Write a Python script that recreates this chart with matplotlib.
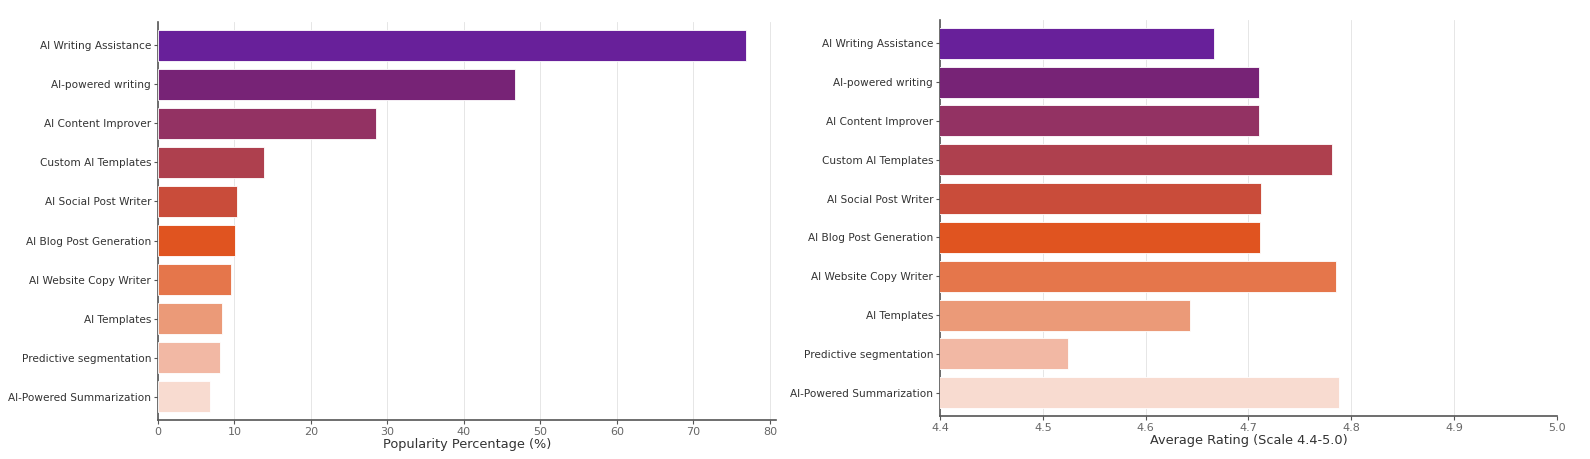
import matplotlib.pyplot as plt
import numpy as np

# categories, top to bottom
features = ['AI Writing Assistance', 'AI-powered writing', 'AI Content Improver',
            'Custom AI Templates', 'AI Social Post Writer', 'AI Blog Post Generation',
            'AI Website Copy Writer', 'AI Templates', 'Predictive segmentation',
            'AI-Powered Summarization']
popularity = [76.9, 46.7, 28.5, 13.9, 10.3, 10.1, 9.5, 8.4, 8.1, 6.8]
ratings = [4.666, 4.710, 4.710, 4.781, 4.712, 4.711, 4.785, 4.643, 4.524, 4.788]

bar_colors = ['#68209A', '#772376', '#933263', '#AE404E', '#C94C3A', '#E05420',
              '#E5764B', '#EB9A78', '#F2B8A4', '#F8DBD0']

ftsz = 7.6
txt_col = '#333333'

fig = plt.figure(figsize=(15.9, 4.59), dpi=100)
ax1 = fig.add_axes([158 / 1590, 1 - 420 / 459, 618 / 1590, 398 / 459])
ax2 = fig.add_axes([940 / 1590, 1 - 416 / 459, 617 / 1590, 396 / 459])

ypos = np.arange(len(features))

ax1.barh(ypos, popularity, color=bar_colors, height=0.8, edgecolor='white', linewidth=0.6, zorder=3)
ax1.set_xlim(0, 80.8)
ax1.set_xticks(np.arange(0, 81, 10))
ax1.set_xlabel('Popularity Percentage (%)', fontsize=9.3, color=txt_col, labelpad=1)

ax2.barh(ypos, ratings, left=0, color=bar_colors, height=0.8, edgecolor='white', linewidth=0.6, zorder=3)
ax2.set_xlim(4.4, 5.0)
ax2.set_xticks(np.arange(4.4, 5.01, 0.1))
ax2.set_xticklabels(['4.4', '4.5', '4.6', '4.7', '4.8', '4.9', '5.0'])
ax2.set_xlabel('Average Rating (Scale 4.4-5.0)', fontsize=9.3, color=txt_col, labelpad=1)

for ax in (ax1, ax2):
    ax.set_yticks(ypos)
    ax.set_yticklabels(features)
    ax.set_ylim(len(features) - 0.5 + 0.1, -0.6)
    ax.tick_params(axis='both', labelsize=ftsz, colors='#555555', labelcolor=txt_col, length=3, pad=2)
    ax.tick_params(axis='x', labelcolor='#666666', labelsize=8)
    ax.grid(True, axis='x', color='#e2e2e2', linestyle='-', linewidth=0.6, zorder=0)
    for s in ['top', 'right']:
        ax.spines[s].set_visible(False)
    for s in ['left', 'bottom']:
        ax.spines[s].set_color('#555555')
        ax.spines[s].set_linewidth(1.2)

fig.savefig('out.png', dpi=100)
